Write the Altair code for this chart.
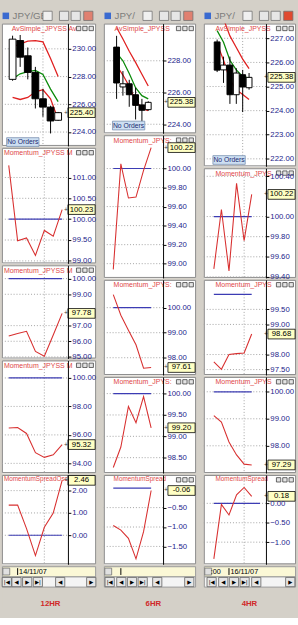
import altair as alt
import pandas as pd

FONT = "Liberation Sans"
GRAY = "#d4d0c8"
GRID = "#a0a0a0"
AXC = "#24248a"
RED = "#e02020"
MRED = "#d83030"
GREEN = "#0a8a0a"
BLUE = "#3c3cb4"
TRED = "#e04848"

# ================= DATA =================
# ---- 12HR window ----
h12_index = [0, 1, 2, 3, 4, 5, 6]
h12_open = [227.80, 230.60, 229.50, 228.30, 226.40, 225.80, 224.85]
h12_high = [230.95, 231.00, 230.10, 228.70, 227.10, 225.90, 225.45]
h12_low = [227.70, 228.70, 227.80, 225.70, 225.10, 223.90, 224.80]
h12_close = [230.70, 229.40, 228.30, 226.40, 225.80, 224.80, 225.40]
h12_band_up = [230.15, 230.35, 230.55, 230.60, 230.50, 229.30, 228.00]
h12_avg = [227.85, 228.20, 228.35, 228.45, 228.15, 227.10, 226.20]
h12_band_dn = [226.50, 226.35, 226.50, 226.90, 227.05, 226.40, 224.90]
h12_mom1 = [101.29, 99.48, 99.55, 99.13, 99.73, 99.59, 100.23]
h12_mom2 = [96.33, 96.50, 96.64, 95.35, 95.04, 96.40, 97.78]
h12_mom3 = [96.48, 96.52, 96.10, 94.75, 94.42, 94.60, 95.32]
h12_spread = [1.35, 1.35, 0.30, -0.91, 0.36, 1.00, 2.46]
h12_ticks = [[224, 226, 228, 230], [99, 99.5, 100, 100.5, 101], [95, 96, 97, 99, 100],
             [94, 96, 98, 100], [0, 1, 2]]

# ---- 6HR window ----
h6_index = [0, 1, 2, 3, 4, 5]
h6_open = [228.86, 226.35, 226.55, 225.86, 225.22, 224.92]
h6_high = [229.57, 227.35, 226.80, 226.30, 225.60, 225.45]
h6_low = [225.60, 225.80, 225.10, 224.30, 224.17, 224.85]
h6_close = [226.60, 226.55, 225.86, 225.19, 224.88, 225.38]
h6_band_up = [230.10, 229.37, 228.60, 227.90, 227.15, 226.41]
h6_avg = [228.50, 228.00, 227.20, 226.30, 225.80, 225.60]
h6_band_dn = [227.70, 227.10, 226.40, 225.50, 225.00, 224.85]
h6_mom1 = [98.94, 100.05, 99.69, 99.70, 99.98, 100.22]
h6_mom2 = [100.52, 99.70, 99.10, 98.52, 97.58, 97.61]
h6_mom3 = [98.27, 98.75, 99.70, 99.32, 99.93, 99.20]
h6_spread = [-0.96, -1.08, -1.29, -1.82, -1.12, -0.06]
h6_ticks = [[224, 226, 228], [99, 99.2, 99.4, 99.6, 99.8, 100], [98, 99, 100],
            [98.5, 99, 99.5, 100], [-1.5, -1, -0.5]]

# ---- 4HR window ----
h4_index = [0, 1, 2, 3, 4, 5]
h4_open = [226.85, 225.69, 225.89, 224.66, 225.49, 224.95]
h4_high = [226.95, 226.24, 226.24, 225.76, 225.69, 225.56]
h4_low = [225.60, 225.15, 224.28, 224.28, 223.94, 224.87]
h4_close = [225.68, 225.89, 224.66, 225.56, 224.98, 225.38]
h4_band_up = [228.40, 227.80, 227.10, 226.62, 226.14, 225.74]
h4_avg = [227.32, 226.84, 226.09, 225.69, 225.42, 225.35]
h4_band_dn = [226.78, 226.09, 225.28, 224.87, 224.67, 224.46]
h4_mom1 = [99.48, 100.07, 99.46, 100.33, 99.76, 100.22]
h4_mom2 = [97.76, 97.51, 98.00, 98.03, 98.05, 98.68]
h4_mom3 = [99.12, 98.88, 98.14, 97.66, 97.32, 97.29]
h4_spread = [-1.43, -0.03, -0.30, 0.22, 0.41, 0.18]
h4_ticks = [[222, 223, 224, 225, 226, 227], [99.4, 99.6, 99.8, 100, 100.4],
            [97.5, 98, 99, 99.5], [98, 99, 100], [-1, -0.5, 0]]

momentum_level = 100
spread_level = 0
period_labels = ["12HR", "6HR", "4HR"]
window_titles = ["JPY/GB", "JPY/", "JPY/"]
date_labels = [[("14/11/07", 1)], [], [(":00", -0.6), ("16/11/07", 2)]]

# ================= LAYOUT SETTINGS =================
cfgs = [
    dict(W=97, DW=68, i0=7.0, step=9.17, bw=7, vgrid=4, date_tick=1, spread_end=6,
         heights=[126, 119, 96, 116, 92],
         doms=[[223.0, 231.82], [98.94, 101.71], [94.9, 100.85], [93.32, 101.23], [-1.30, 2.70]],
         titles=["AvSimple_JPYSS Av", "Momentum_JPYSS M", "Momentum_JPYSS M", "Momentum_JPYSS M",
                 "MomentumSpreadOsc"],
         tx=[10, 2, 2, 2, 2], no_orders=(21.5, 122),
         hr_x=50, nav=[5, 15, 26, 37, 60, 92], nav_glyph=["|◀", "◀", "▶", "▶|", "◀", "▶"],
         idx=h12_index, o=h12_open, h=h12_high, l=h12_low, c=h12_close,
         bands=[h12_band_up, h12_avg, h12_band_dn], moms=[h12_mom1, h12_mom2, h12_mom3],
         spread=h12_spread, ticks=h12_ticks, label=period_labels[0], win=window_titles[0],
         dates=date_labels[0], close_col="#e08070"),
    dict(W=95, DW=61, i0=9.7, step=7.8, bw=6, vgrid=None, date_tick=1, spread_end=5,
         heights=[113, 147, 98, 99, 92],
         doms=[[223.43, 230.34], [98.85, 100.35], [97.31, 101.11], [98.14, 100.39], [-1.96, 0.34]],
         titles=["AvSimple_JPYSS", "Momentum_JPYS:", "Momentum_JPYS:", "Momentum_JPYS:", "MomentumSpread"],
         tx=[11, 10, 10, 10, 10], no_orders=(25.5, 105),
         hr_x=51, nav=[6, 18, 29, 40, 55, 88], nav_glyph=["|◀", "◀", "▶", "▶|", "◀", "▶"],
         idx=h6_index, o=h6_open, h=h6_high, l=h6_low, c=h6_close,
         bands=[h6_band_up, h6_avg, h6_band_dn], moms=[h6_mom1, h6_mom2, h6_mom3],
         spread=h6_spread, ticks=h6_ticks, label=period_labels[1], win=window_titles[1],
         dates=date_labels[1], close_col="#e08070"),
    dict(W=95, DW=64, i0=10.3, step=7.8, bw=6, vgrid=4, date_tick=2, spread_end=6.1,
         heights=[147, 113, 98, 99, 92],
         doms=[[221.69, 227.61], [99.39, 100.48], [97.32, 100.48], [96.99, 100.55], [-1.57, 0.73]],
         titles=["AvSimple_JPYSS", "Momentum_JPYS", "Momentum_JPYS", "Momentum_JPYS", "MomentumSpread"],
         tx=[12, 12, 12, 12, 12], no_orders=(26, 140.5),
         hr_x=47, nav=[8, 20, 31, 42, 54, 89], nav_glyph=["|◀", "◀", "▶", "▶|", "◀", "▶"],
         idx=h4_index, o=h4_open, h=h4_high, l=h4_low, c=h4_close,
         bands=[h4_band_up, h4_avg, h4_band_dn], moms=[h4_mom1, h4_mom2, h4_mom3],
         spread=h4_spread, ticks=h4_ticks, label=period_labels[2], win=window_titles[2],
         dates=date_labels[2], close_col="#e04a30"),
]
for cfg in cfgs:
    cfg["xdom"] = [-cfg["i0"] / cfg["step"], (cfg["DW"] - cfg["i0"]) / cfg["step"]]
    cfg["box_x"] = cfg["W"] - 15

BOX = "M-2.8,-1L2.8,-1L2.8,1L-2.8,1Z"
NOBOX = "M-3.7,-1L3.7,-1L3.7,1L-3.7,1Z"


def xenc(cfg):
    return alt.X("i:Q", scale=alt.Scale(domain=cfg["xdom"], nice=False, zero=False), axis=None)


def make_yenc(cfg, k):
    W, DW = cfg["W"], cfg["DW"]
    dom, ticks = cfg["doms"][k], cfg["ticks"][k]
    ax = alt.Axis(values=ticks, orient="right", format=".2f", title=None,
                  grid=False, labelFontSize=8, labelFont=FONT, labelColor=AXC,
                  tickSize=3, tickColor="black", domainColor="black", domainWidth=1,
                  labelPadding=1, labelOverlap=False, labelFlush=False, zindex=1,
                  minExtent=W - DW, maxExtent=W - DW)

    def yenc(field):
        return alt.Y(f"{field}:Q", scale=alt.Scale(domain=dom, nice=False, zero=False), axis=ax)
    return yenc


def panel(cfg, k):
    W, DW, H = cfg["W"], cfg["DW"], cfg["heights"][k]
    ticks = cfg["ticks"][k]
    yenc = make_yenc(cfg, k)
    one = pd.DataFrame({"n": [0]})
    layers = []
    layers.append(alt.Chart(one).mark_rect(fill="white", stroke="#8a8a8a", strokeWidth=1).encode(
        x=alt.value(0.5), x2=alt.value(W - 0.5), y=alt.value(0.5), y2=alt.value(H - 0.5)))
    layers.append(alt.Chart(pd.DataFrame({"v": ticks})).mark_rule(
        color=GRID, strokeDash=[1, 2], strokeWidth=1).encode(
        y=yenc("v"), x=alt.value(0), x2=alt.value(DW)))
    if cfg["vgrid"] is not None:
        layers.append(alt.Chart(pd.DataFrame({"i": [cfg["vgrid"]]})).mark_rule(
            color=GRID, strokeDash=[1, 2]).encode(x=xenc(cfg)))
    idx = cfg["idx"]
    if k == 0:
        df = pd.DataFrame({"i": idx, "o": cfg["o"], "h": cfg["h"], "l": cfg["l"], "c": cfg["c"]})
        df["dir"] = ["up" if c >= o else "down" for o, c in zip(df["o"], df["c"])]
        for vals, col in zip(cfg["bands"], [RED, GREEN, RED]):
            layers.append(alt.Chart(pd.DataFrame({"i": idx, "v": vals})).mark_line(
                color=col, strokeWidth=1.3, clip=True).encode(x=xenc(cfg), y=yenc("v")))
        layers.append(alt.Chart(df).mark_rule(color="black", strokeWidth=1).encode(
            x=xenc(cfg), y=yenc("l"), y2="h:Q"))
        layers.append(alt.Chart(df).mark_bar(size=cfg["bw"], stroke="black", strokeWidth=1).encode(
            x=xenc(cfg), y=yenc("o"), y2="c:Q",
            fill=alt.Fill("dir:N", scale=alt.Scale(domain=["up", "down"], range=["white", "black"]),
                          legend=None)))
        last = cfg["c"][-1]
    else:
        vals = cfg["moms"][k - 1] if k < 4 else cfg["spread"]
        level = momentum_level if k < 4 else spread_level
        end = idx[-1] if k < 4 else cfg["spread_end"]
        layers.append(alt.Chart(pd.DataFrame({"i": [idx[0]], "i2": [end], "v": [level]})).mark_rule(
            color=BLUE, strokeWidth=1.2).encode(x=xenc(cfg), x2="i2:Q", y=yenc("v")))
        layers.append(alt.Chart(pd.DataFrame({"i": idx, "v": vals})).mark_line(
            color=MRED, strokeWidth=1.1, clip=True).encode(x=xenc(cfg), y=yenc("v")))
        last = vals[-1]
    tsize = 6.6 if k == 4 else 7.2
    layers.append(alt.Chart(pd.DataFrame({"t": [cfg["titles"][k]]})).mark_text(
        align="left", baseline="top", fontSize=tsize, font=FONT, color=TRED).encode(
        text="t:N", x=alt.value(cfg["tx"][k]), y=alt.value(1.5)))
    for off in [18, 11.5, 5]:
        layers.append(alt.Chart(one).mark_point(
            shape="square", size=20, filled=True, fill="#e4e4e4", stroke="#404040",
            strokeWidth=0.8, opacity=1).encode(x=alt.value(W - off), y=alt.value(5)))
    lv = pd.DataFrame({"v": [last], "t": [f"{last:.2f}"], "p": ["+"]})
    layers.append(alt.Chart(lv).mark_point(
        shape=BOX, size=100, filled=True, fill="#ffffc4", stroke="black", strokeWidth=0.8,
        opacity=1).encode(x=alt.value(cfg["box_x"]), y=yenc("v")))
    layers.append(alt.Chart(lv).mark_text(fontSize=8, font=FONT, color="black").encode(
        x=alt.value(cfg["box_x"]), y=yenc("v"), text="t:N"))
    layers.append(alt.Chart(lv).mark_text(fontSize=7, font=FONT, color="#404040").encode(
        x=alt.value(cfg["box_x"] - 16), y=yenc("v"), text="p:N"))
    if k == 0:
        nx, ny = cfg["no_orders"]
        nd = pd.DataFrame({"t": ["No Orders"]})
        layers.append(alt.Chart(nd).mark_point(
            shape=NOBOX, size=81, filled=True, fill="#cddff2", stroke="#7890b0", strokeWidth=0.8,
            opacity=1).encode(x=alt.value(nx), y=alt.value(ny)))
        layers.append(alt.Chart(nd).mark_text(fontSize=7, font=FONT, color="#1c2c70").encode(
            text="t:N", x=alt.value(nx), y=alt.value(ny + 0.5)))
    return alt.layer(*layers).properties(
        width=DW, height=H, view=alt.ViewBackground(fill="white", stroke="transparent"))


def header(cfg):
    W = cfg["W"]
    base = pd.DataFrame({"t": [cfg["win"]]})
    lay = [
        alt.Chart(base).mark_point(shape="square", size=45, filled=True, fill="#3a6ad0", opacity=1).encode(
            x=alt.value(4), y=alt.value(6)),
        alt.Chart(base).mark_text(align="left", baseline="middle", fontSize=10, font=FONT,
                                  color="#7c7c7c").encode(text="t:N", x=alt.value(11), y=alt.value(6.5)),
    ]
    for off, fill in [(50, "#f0f0f0"), (33, "#e6e6e6"), (21, "#e6e6e6"), (8, cfg["close_col"])]:
        lay.append(alt.Chart(base).mark_point(shape="square", size=90, filled=True, fill=fill,
                                              stroke="#707070", strokeWidth=0.8, opacity=1).encode(
            x=alt.value(W - off), y=alt.value(6)))
    return alt.layer(*lay).properties(width=W, height=12,
                                      view=alt.ViewBackground(fill=GRAY, stroke="transparent"))


def bottom_strip(cfg):
    W, i0, step = cfg["W"], cfg["i0"], cfg["step"]
    one = pd.DataFrame({"n": [0]})
    lay = [
        alt.Chart(one).mark_rect(fill="#fbf8d6", stroke="#9a9a9a", strokeWidth=1).encode(
            x=alt.value(0.5), x2=alt.value(W - 0.5), y=alt.value(0.5), y2=alt.value(11)),
        alt.Chart(one).mark_rect(fill="#f4f4f4", stroke="#9a9a9a", strokeWidth=1).encode(
            x=alt.value(0.5), x2=alt.value(W - 0.5), y=alt.value(11), y2=alt.value(21.5)),
        alt.Chart(one).mark_point(shape="square", size=50, filled=True, fill="#e0e0e0",
                                  stroke="#707070", strokeWidth=0.8, opacity=1).encode(
            x=alt.value(4.5), y=alt.value(5.5)),
        alt.Chart(one).mark_rule(color="black").encode(
            x=alt.value(i0 + step * cfg["date_tick"]), y=alt.value(2), y2=alt.value(9)),
    ]
    for txt, pos in cfg["dates"]:
        lay.append(alt.Chart(pd.DataFrame({"t": [txt]})).mark_text(
            fontSize=7.5, font=FONT, color="black", align="left").encode(
            text="t:N", x=alt.value(i0 + step * pos + 1.5), y=alt.value(6.5)))
    for x, g in zip(cfg["nav"], cfg["nav_glyph"]):
        lay.append(alt.Chart(pd.DataFrame({"t": [g]})).mark_point(
            shape="square", size=90, filled=True, fill="#e6e6e6", stroke="#606060",
            strokeWidth=0.8, opacity=1).encode(x=alt.value(x), y=alt.value(16.3)))
        lay.append(alt.Chart(pd.DataFrame({"t": [g]})).mark_text(
            fontSize=5.5, font="DejaVu Sans", color="black").encode(
            text="t:N", x=alt.value(x), y=alt.value(16.8)))
    return alt.layer(*lay).properties(width=W, height=22,
                                      view=alt.ViewBackground(fill=GRAY, stroke="transparent"))


def hr_strip(cfg):
    W = cfg["W"]
    return alt.Chart(pd.DataFrame({"t": [cfg["label"]]})).mark_text(
        fontSize=8, font=FONT, fontWeight="bold", color="#d02828").encode(
        text="t:N", x=alt.value(cfg["hr_x"]), y=alt.value(15)).properties(
        width=W, height=18, view=alt.ViewBackground(fill=GRAY, stroke="transparent"))


columns = []
for cfg in cfgs:
    items = [header(cfg)] + [panel(cfg, k) for k in range(5)] + [bottom_strip(cfg), hr_strip(cfg)]
    columns.append(alt.vconcat(*items, spacing=2, bounds="flush"))

chart = alt.hconcat(*columns, spacing=4).properties(
    background=GRAY, padding={"left": 0, "top": 0, "right": 0, "bottom": 0}
)

chart.save("out.html", embed_options={"renderer": "svg", "actions": False})
